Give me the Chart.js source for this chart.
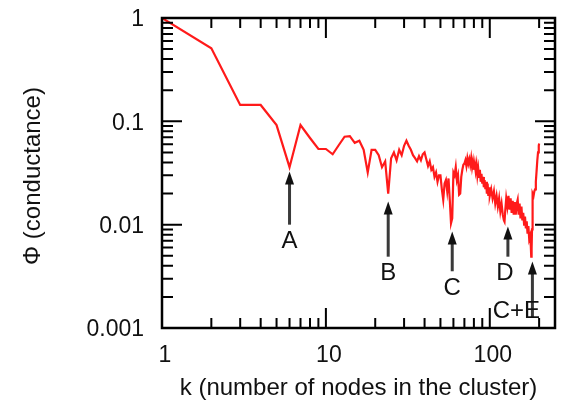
<!DOCTYPE html>
<html lang="en">
<head>
  <meta charset="UTF-8">
  <title>Conductance vs cluster size</title>
  <script src="https://cdn.jsdelivr.net/npm/chart.js"></script>
  <style>
    body { margin: 0; background: #fff; }
    #wrap { width: 566px; height: 403px; }
  </style>
</head>
<body>
  <div id="wrap"><canvas id="chart" width="566" height="403"></canvas></div>

<script>
// cluster size k and its conductance
const kValues = [
  1, 2, 3, 4, 5, 6, 7, 8, 9, 10,
  11, 12, 13, 14, 15, 16, 17, 18, 19, 20,
  21, 22, 23, 24, 25, 26, 27, 28, 29, 30,
  31, 32, 33, 34, 35, 36, 37, 38, 39, 40,
  41, 42, 43, 44, 45, 46, 47, 48, 49, 50,
  51, 52, 53, 54, 55, 56, 57, 58, 59, 60,
  61, 62, 63, 64, 65, 66, 67, 68, 69, 70,
  71, 72, 73, 74, 75, 76, 77, 78, 79, 80,
  81, 82, 83, 84, 85, 86, 87, 88, 89, 90,
  91, 92, 93, 94, 95, 96, 97, 98, 99, 100,
  102, 104, 106, 108, 110, 112, 114, 116, 118, 120,
  122, 123, 124, 126, 128, 130, 132, 134, 136, 138,
  140, 142, 144, 146, 148, 150, 152, 154, 156, 158,
  160, 162, 164, 166, 168, 170, 172, 174, 176, 178,
  179, 180, 181, 182, 183, 185, 187, 189, 191, 193,
  195, 197, 199, 200
];
const phiValues = [
  1.0, 0.51, 0.144, 0.144, 0.092, 0.036, 0.092, 0.069, 0.054, 0.054,
  0.048, 0.059, 0.071, 0.072, 0.062, 0.065, 0.053, 0.032, 0.053, 0.053,
  0.047, 0.036, 0.041, 0.020, 0.044, 0.050, 0.042, 0.053, 0.047, 0.058,
  0.065, 0.058, 0.053, 0.047, 0.044, 0.041, 0.046, 0.042, 0.048, 0.050,
  0.043, 0.037, 0.041, 0.034, 0.036, 0.029, 0.032, 0.026, 0.030, 0.030,
  0.022, 0.0174, 0.025, 0.027, 0.021, 0.028, 0.0174, 0.0103, 0.0115, 0.032,
  0.030, 0.036, 0.027, 0.030, 0.0195, 0.020, 0.029, 0.034, 0.038, 0.039,
  0.042, 0.037, 0.044, 0.039, 0.043, 0.038, 0.044, 0.036, 0.041, 0.034,
  0.039, 0.033, 0.038, 0.030, 0.035, 0.029, 0.034, 0.026, 0.031, 0.025,
  0.029, 0.023, 0.027, 0.022, 0.026, 0.020, 0.025, 0.019, 0.023, 0.019,
  0.022, 0.018, 0.021, 0.016, 0.019, 0.015, 0.018, 0.0135, 0.016, 0.0125,
  0.011, 0.0107, 0.013, 0.018, 0.015, 0.019, 0.014, 0.018, 0.013, 0.017,
  0.0125, 0.0165, 0.0125, 0.016, 0.0175, 0.0125, 0.016, 0.0115, 0.015, 0.011,
  0.013, 0.010, 0.012, 0.0092, 0.0108, 0.0082, 0.0097, 0.0073, 0.0078, 0.0062,
  0.0049, 0.0058, 0.009, 0.016, 0.020, 0.019, 0.021, 0.022, 0.026, 0.033,
  0.042, 0.050, 0.058, 0.061
];

// annotated dips: arrow from tail (bottom) up to tip
const arrowNames = ['A', 'B', 'C', 'D', 'C+E'];
const arrowK = [6, 24, 59, 129, 182];
const arrowTip = [0.0327, 0.0168, 0.0086, 0.0096, 0.0044];
const arrowTail = [0.0100, 0.0049, 0.00354, 0.0049, 0.00126];

const xTickLabels = ['1', '10', '100'];
const yTickLabels = ['1', '0.1', '0.01', '0.001'];

const FONT = '"Liberation Sans", Arial, Helvetica, sans-serif';

// frame, inward ticks, labels, arrows
const framePlugin = {
  id: 'frame',
  afterDatasetsDraw(chart) {
    const { ctx, chartArea: a, scales } = chart;
    const xs = scales.x, ys = scales.y;
    ctx.save();
    ctx.strokeStyle = '#000';
    ctx.fillStyle = '#111';

    // ticks on all four sides, pointing in
    ctx.lineWidth = 2;
    ctx.beginPath();
    [1, 10, 100].forEach(dec => {
      for (let m = 1; m <= 9; m++) {
        const v = dec * m;
        if (v > 250) break;
        const px = xs.getPixelForValue(v);
        const len = m === 1 ? 20 : 10;
        ctx.moveTo(px, a.bottom); ctx.lineTo(px, a.bottom - len);
        ctx.moveTo(px, a.top); ctx.lineTo(px, a.top + len);
      }
    });
    [0.001, 0.01, 0.1, 1].forEach(dec => {
      for (let m = 1; m <= 9; m++) {
        const v = dec * m;
        if (v > 1.0001) break;
        const py = ys.getPixelForValue(v);
        const len = m === 1 ? 20 : 11;
        ctx.moveTo(a.left, py); ctx.lineTo(a.left + len, py);
        ctx.moveTo(a.right, py); ctx.lineTo(a.right - len, py);
      }
    });
    ctx.stroke();

    ctx.lineWidth = 2.5;
    ctx.strokeRect(a.left, a.top, a.right - a.left, a.bottom - a.top);

    // tick labels
    ctx.font = '23px ' + FONT;
    ctx.textAlign = 'center';
    ctx.textBaseline = 'middle';
    xTickLabels.forEach(t => {
      ctx.fillText(t, xs.getPixelForValue(Number(t)) + 3, a.bottom + 28);
    });
    ctx.textAlign = 'right';
    yTickLabels.forEach(t => {
      ctx.fillText(t, a.left - 18, ys.getPixelForValue(Number(t)) + 2);
    });

    // axis titles
    ctx.font = '24px ' + FONT;
    ctx.textAlign = 'center';
    ctx.fillText('k (number of nodes in the cluster)', (a.left + a.right) / 2, a.bottom + 60);
    ctx.save();
    ctx.translate(33, (a.top + a.bottom) / 2 + 3);
    ctx.rotate(-Math.PI / 2);
    ctx.fillText('\u03A6 (conductance)', 0, 0);
    ctx.restore();

    // arrows
    const labelShift = [[0, 17], [0, 17], [0, 17], [-3, 17], [-16, -6]];
    arrowK.forEach((k, i) => {
      const px = xs.getPixelForValue(k);
      const tip = ys.getPixelForValue(arrowTip[i]);
      const tail = ys.getPixelForValue(arrowTail[i]);
      ctx.strokeStyle = '#3a3a3a';
      ctx.lineWidth = 3;
      ctx.beginPath();
      ctx.moveTo(px, tail);
      ctx.lineTo(px, tip + 8);
      ctx.stroke();
      ctx.fillStyle = '#111';
      ctx.beginPath();
      ctx.moveTo(px, tip);
      ctx.lineTo(px - 4.5, tip + 13);
      ctx.lineTo(px + 4.5, tip + 13);
      ctx.closePath();
      ctx.fill();

      ctx.font = '24px ' + FONT;
      ctx.textAlign = 'center';
      ctx.textBaseline = 'middle';
      ctx.fillText(arrowNames[i], px + labelShift[i][0], tail + labelShift[i][1]);
    });

    ctx.restore();
  }
};

new Chart(document.getElementById('chart'), {
  type: 'line',
  data: {
    datasets: [{
      label: 'conductance',
      data: kValues.map((k, i) => ({ x: k, y: phiValues[i] })),
      borderColor: '#ff1a1a',
      borderWidth: 2.2,
      pointRadius: 0,
      tension: 0,
      fill: false
    }]
  },
  options: {
    responsive: false,
    animation: false,
    layout: { padding: { left: 162, top: 18, right: 11, bottom: 75 } },
    scales: {
      x: { type: 'logarithmic', min: 1, max: 250, display: false },
      y: { type: 'logarithmic', min: 0.001, max: 1, display: false }
    },
    plugins: {
      legend: { display: false },
      tooltip: { enabled: false }
    }
  },
  plugins: [framePlugin]
});
</script>
</body>
</html>
